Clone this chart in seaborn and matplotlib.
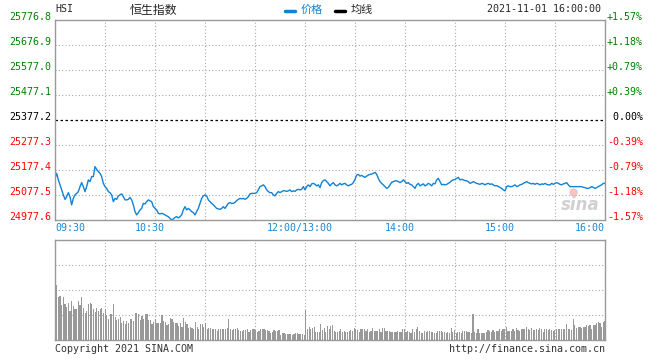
import numpy as np
import pandas as pd
import seaborn as sns
import matplotlib.pyplot as plt
from matplotlib.lines import Line2D
from matplotlib.transforms import ScaledTranslation, blended_transform_factory

# 昨收 / 纵轴刻度
prev_close = 25377.2
y_ticks = [24977.6, 25077.5, 25177.4, 25277.3, 25377.2, 25477.1, 25577.0, 25676.9, 25776.8]
pct_labels = ['-1.57%', '-1.18%', '-0.79%', '-0.39%', ' 0.00%', '+0.39%', '+0.79%', '+1.18%', '+1.57%']
time_ticks = [0, 60, 150, 210, 270, 330]
time_labels = ['09:30', '10:30', '12:00/13:00', '14:00', '15:00', '16:00']

# 分时价格 (上午 09:30-12:00, 下午 13:00-16:00)
price_am = [25144, 25164, 25138, 25118, 25098, 25078, 25060, 25071, 25087, 25071,
            25038, 25064, 25078, 25084, 25091, 25111, 25127, 25111, 25091, 25111,
            25138, 25131, 25151, 25151, 25191, 25180, 25171, 25164, 25151, 25124,
            25111, 25104, 25091, 25087, 25078, 25051, 25064, 25060, 25074, 25078,
            25082, 25071, 25058, 25058, 25060, 25068, 25058, 25038, 25011, 24998,
            25007, 25018, 25024, 25044, 25042, 25051, 25058, 25054, 25051, 25031,
            25024, 25018, 25004, 25002, 25004, 25002, 24998, 24994, 24991, 24984,
            24978, 24982, 24988, 24991, 24986, 24991, 24998, 25018, 25031, 25018,
            25024, 25018, 25011, 25007, 24998, 25011, 25024, 25044, 25064, 25074,
            25078, 25074, 25058, 25051, 25044, 25038, 25031, 25024, 25022, 25020,
            25024, 25031, 25024, 25034, 25044, 25047, 25044, 25044, 25048, 25055,
            25060, 25064, 25062, 25064, 25060, 25064, 25071, 25082, 25084, 25084,
            25084, 25087, 25098, 25111, 25114, 25118, 25111, 25098, 25091, 25087,
            25087, 25078, 25074, 25084, 25091, 25087, 25091, 25095, 25094, 25092,
            25094, 25098, 25091, 25094, 25092, 25098, 25100, 25098, 25100, 25111]
price_pm = [25098, 25111, 25118, 25111, 25122, 25124, 25120, 25114, 25118, 25107,
            25127, 25135, 25138, 25131, 25124, 25114, 25122, 25127, 25118, 25114,
            25118, 25124, 25118, 25122, 25124, 25118, 25114, 25118, 25120, 25127,
            25140, 25157, 25160, 25153, 25156, 25151, 25148, 25153, 25157, 25160,
            25161, 25164, 25168, 25160, 25144, 25131, 25124, 25118, 25111, 25104,
            25108, 25118, 25128, 25131, 25134, 25134, 25131, 25127, 25131, 25138,
            25131, 25124, 25127, 25120, 25118, 25111, 25104, 25118, 25124, 25114,
            25118, 25122, 25114, 25118, 25124, 25120, 25114, 25124, 25122, 25138,
            25144, 25131, 25118, 25120, 25118, 25120, 25124, 25128, 25135, 25138,
            25140, 25144, 25148, 25138, 25140, 25138, 25135, 25134, 25131, 25124,
            25127, 25131, 25127, 25124, 25122, 25120, 25124, 25122, 25118, 25122,
            25124, 25120, 25122, 25118, 25114, 25115, 25111, 25108, 25104, 25098,
            25094, 25111, 25114, 25111, 25111, 25114, 25118, 25111, 25114, 25118,
            25120, 25124, 25127, 25131, 25127, 25124, 25122, 25124, 25120, 25124,
            25122, 25118, 25122, 25120, 25124, 25120, 25118, 25118, 25124, 25120,
            25124, 25127, 25124, 25120, 25118, 25122, 25124, 25127, 25118, 25111,
            25111, 25111, 25111, 25111, 25111, 25111, 25111, 25108, 25107, 25104,
            25104, 25107, 25111, 25108, 25104, 25107, 25111, 25115, 25118, 25124,
            25124]

# 成交量 (按柱高估读, 相对单位 0-100)
volume = [55, 43, 44, 35, 43, 36, 33, 37, 29, 39, 34, 31, 31, 39, 35, 43, 32, 27, 29, 36,
          37, 36, 31, 28, 32, 29, 31, 32, 27, 31, 25, 21, 26, 26, 36, 23, 20, 21, 23, 17,
          19, 16, 19, 17, 21, 21, 19, 27, 27, 26, 20, 24, 21, 26, 26, 20, 20, 16, 18, 21,
          17, 17, 17, 25, 19, 18, 15, 16, 22, 21, 18, 17, 17, 14, 17, 13, 22, 18, 16, 12,
          13, 12,
          11, 18, 13, 11, 16, 16, 13, 17, 11, 12, 12, 11, 11, 11, 9, 11, 11, 11, 11, 11,
          12, 21, 11, 10, 11, 11, 12, 10, 9, 9, 10, 10, 11, 8, 10, 11, 11, 10, 8, 9,
          11, 11, 11, 10, 10, 9, 7, 8, 10, 9, 9, 10, 5, 7, 7, 6, 6, 6, 6, 5,
          6, 7, 7, 6, 6, 6, 5, 30, 11, 13, 11, 12, 13, 8, 8, 8, 16, 10, 12, 8,
          14, 11,
          14, 15, 9, 8, 8, 9, 11, 8, 9, 8, 8, 9, 10, 9, 12, 11, 10, 8, 11, 11,
          11, 9, 11, 8, 9, 12, 9, 9, 9, 11, 8, 12, 12, 9, 9, 9, 8, 8, 8, 8,
          9, 8, 8, 11, 11, 8, 9, 8, 7, 11, 8, 11, 13, 9, 7, 7, 9, 8, 9, 9,
          8, 8, 7, 7, 9, 9, 9, 8, 8, 7, 8, 7, 12, 8, 10, 7, 8, 8, 7, 9,
          9, 9, 8,
          8, 7, 26, 8, 7, 11, 7, 7, 7, 7, 8, 10, 9, 8, 10, 8, 9, 9, 11, 9,
          11, 11, 13, 9, 9, 9, 11, 9, 12, 10, 9, 11, 11, 11, 13, 11, 10, 12, 10, 10,
          11, 10, 12, 11, 8, 11, 11, 10, 11, 10, 9, 10, 11, 11, 11, 11, 11, 11, 16, 11,
          11, 10, 21, 15, 12, 13, 13, 12, 13, 13, 15, 14, 15, 11, 15, 15, 17, 18, 17, 13,
          18, 19]

line_color = '#1282d4'
blue_text = '#1a88d4'
green = '#008000'
red = '#ff0000'
frame = '#999999'
grid = '#aaaaaa'
mono = ['DejaVu Sans Mono', 'Noto Sans CJK SC']
cjk = ['Noto Sans CJK SC', 'DejaVu Sans']

sns.set_style('white')
plt.rcParams['font.family'] = mono

fig = plt.figure(figsize=(6.6, 3.6), dpi=100)
ax = fig.add_axes([55 / 660, 140 / 360, 550 / 660, 200 / 360])
axv = fig.add_axes([55 / 660, 20 / 360, 550 / 660, 100 / 360])

price = price_am + price_pm
df = pd.DataFrame({'minute': np.arange(len(price)), 'price': price})
sns.lineplot(data=df, x='minute', y='price', ax=ax, color=line_color, linewidth=1)

vdf = pd.DataFrame({'pos': np.linspace(1, 330, len(volume)), 'vol': volume})
sns.barplot(data=vdf, x='pos', y='vol', native_scale=True, color='#999999', saturation=1,
            width=0.7, errorbar=None, linewidth=0, antialiased=False, ax=axv)

for a in (ax, axv):
    a.set_xlim(0, 330)
    a.set_xticks([])
    a.set_yticks([])
    a.set_xlabel('')
    a.set_ylabel('')
    for m in range(30, 330, 30):
        a.axvline(m, color=grid, linewidth=0.8, linestyle=(0, (1, 2)), zorder=0)
    for s in a.spines.values():
        s.set_color(frame)
        s.set_linewidth(1)

ax.set_ylim(y_ticks[0], y_ticks[-1])
axv.set_ylim(0, 100)
for y in y_ticks[1:-1]:
    if y == prev_close:
        ax.axhline(y, color='black', linewidth=0.9, linestyle=(0, (2, 2)), zorder=1)
    else:
        ax.axhline(y, color=grid, linewidth=0.8, linestyle=(0, (1, 2)), zorder=0)
for y in (25, 50, 75):
    axv.axhline(y, color=grid, linewidth=0.8, linestyle=(0, (1, 2)), zorder=0)


def shift(base, dx, dy):
    return base + ScaledTranslation(dx / 100, dy / 100, fig.dpi_scale_trans)


ybl = blended_transform_factory(ax.transAxes, ax.transData)
for y, p in zip(y_ticks, pct_labels):
    c = green if y > prev_close else (red if y < prev_close else 'black')
    ax.text(0, y, f'{y:.1f}', transform=shift(ybl, -4, 3), ha='right', va='center',
            fontsize=7.2, color=c)
    ax.text(1, y, p, transform=shift(ybl, 2, 3), ha='left', va='center',
            fontsize=7.2, color=c)

xbl = blended_transform_factory(ax.transData, ax.transAxes)
for i, (m, lab) in enumerate(zip(time_ticks, time_labels)):
    if i == 0:
        ha, dx = 'left', 0
    elif i == len(time_ticks) - 1:
        ha, dx = 'right', 0
    else:
        ha, dx = 'center', -5
    ax.text(m, 0, lab, transform=shift(xbl, dx, -8), ha=ha, va='center',
            fontsize=7.2, color=blue_text)

# 水印
ax.text(0.955, 0.075, 'sina', transform=ax.transAxes, ha='center', va='center',
        fontsize=12, fontweight='bold', style='italic', color='#d0d0d0',
        family='DejaVu Sans', zorder=0)
ax.plot([0.942], [0.14], marker='o', markersize=5, color='#f4b8b8', alpha=0.8,
        transform=ax.transAxes, zorder=0)

# 顶部标题与图例
fig.text(55 / 660, 1 - 9 / 360, 'HSI', ha='left', va='center', fontsize=7.2)
fig.text(130 / 660, 1 - 10 / 360, '恒生指数', ha='left', va='center', fontsize=8.6, family=cjk)
fig.add_artist(Line2D([285 / 660, 295 / 660], [1 - 11 / 360] * 2, color=line_color, linewidth=2.5))
fig.text(301 / 660, 1 - 10 / 360, '价格', ha='left', va='center', fontsize=8, color=line_color, family=cjk)
fig.add_artist(Line2D([335 / 660, 345 / 660], [1 - 11 / 360] * 2, color='black', linewidth=2.5))
fig.text(351 / 660, 1 - 10 / 360, '均线', ha='left', va='center', fontsize=8, family=cjk)
fig.text(601 / 660, 1 - 9 / 360, '2021-11-01 16:00:00', ha='right', va='center', fontsize=7.2)

# 页脚
fig.text(55 / 660, 1 - 349 / 360, 'Copyright 2021 SINA.COM', ha='left', va='center',
         fontsize=7.2, color='#333333')
fig.text(605 / 660, 1 - 349 / 360, 'http://finance.sina.com.cn', ha='right', va='center',
         fontsize=7.2, color='#333333')

fig.savefig('out.png', dpi=100)
